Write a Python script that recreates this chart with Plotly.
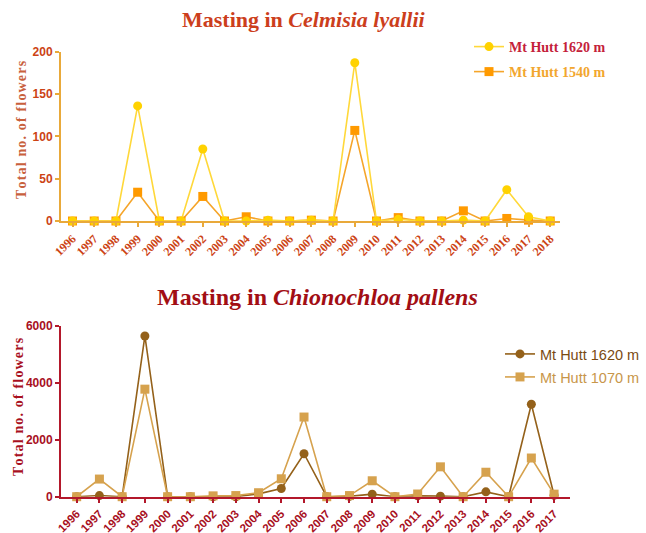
import plotly.graph_objects as go

# ---- data -------------------------------------------------------------
years_cel = list(range(1996, 2019))
cel_1620 = [0, 0, 0, 136, 0, 0, 85, 0, 0, 1, 0, 1, 0, 187, 0, 2, 0, 0, 1, 0, 37, 5, 0]
cel_1540 = [0, 0, 0, 34, 0, 0, 29, 0, 5, 0, 0, 1, 0, 107, 0, 4, 0, 0, 12, 0, 3, 1, 0]

years_chi = list(range(1996, 2018))
chi_1620 = [0, 40, 0, 5650, 0, 0, 0, 0, 100, 290, 1510, 0, 10, 90, 0, 30, 20, 0, 170, 0, 3250, 50]
chi_1070 = [0, 620, 0, 3780, 0, 0, 30, 40, 140, 630, 2800, 0, 40, 560, 0, 95, 1050, 0, 860, 0, 1360, 90]

cel_ticks = [0, 50, 100, 150, 200]
chi_ticks = [0, 2000, 4000, 6000]

W, H = 646, 533
SERIF = "Liberation Serif, Times New Roman, serif"
SANS = "Liberation Sans, Arial, sans-serif"

# palette
C_YEL, C_ORG = "#FFD200", "#FF9A00"
C_YEL_LINE, C_ORG_LINE = "#FFD83A", "#F5A52A"
C_BRN, C_TAN = "#94611A", "#D6A24E"
AX_TOP, AX_BOT = "#E9A93A", "#B3182B"
TXT_TOP, TXT_BOT = "#CC4314", "#A8101E"


def px_x(p):
    return p / W


def px_y(p):
    return 1 - p / H


fig = go.Figure()

# Celmisia panel (orange drawn under yellow); each series has its own legend box
fig.add_trace(go.Scatter(
    x=years_cel, y=cel_1540, mode="lines+markers",
    name='<span style="color:#F2A62E">Mt Hutt 1540 m</span>',
    line=dict(color=C_ORG_LINE, width=1.6),
    marker=dict(symbol="square", size=9, color=C_ORG),
    xaxis="x", yaxis="y", legend="legend2", cliponaxis=False))
fig.add_trace(go.Scatter(
    x=years_cel, y=cel_1620, mode="lines+markers",
    name='<span style="color:#C4213A">Mt Hutt 1620 m</span>',
    line=dict(color=C_YEL_LINE, width=1.6),
    marker=dict(symbol="circle", size=9, color=C_YEL),
    xaxis="x", yaxis="y", legend="legend", cliponaxis=False))

# Chionochloa panel
fig.add_trace(go.Scatter(
    x=years_chi, y=chi_1620, mode="lines+markers",
    name='<span style="color:#7A4A12">Mt Hutt 1620 m</span>',
    line=dict(color=C_BRN, width=1.6),
    marker=dict(symbol="circle", size=9, color=C_BRN),
    xaxis="x2", yaxis="y2", legend="legend3", cliponaxis=False))
fig.add_trace(go.Scatter(
    x=years_chi, y=chi_1070, mode="lines+markers",
    name='<span style="color:#C8964A">Mt Hutt 1070 m</span>',
    line=dict(color=C_TAN, width=1.6),
    marker=dict(symbol="square", size=9, color=C_TAN),
    xaxis="x2", yaxis="y2", legend="legend4", cliponaxis=False))

common_axis = dict(showgrid=False, zeroline=False, showline=True, ticks="outside",
                   ticklen=4, tickwidth=1.5, linewidth=2, automargin=False)


def legend_box(x, y, font):
    return dict(x=px_x(x), y=px_y(y), xanchor="left", yanchor="middle",
                bgcolor="rgba(0,0,0,0)", itemwidth=30, font=font)


top_leg_font = dict(family=SERIF, size=14, weight="bold")
bot_leg_font = dict(family=SANS, size=14.5)

fig.update_layout(
    width=W, height=H, margin=dict(l=0, r=0, t=0, b=0, autoexpand=False),
    paper_bgcolor="white", plot_bgcolor="white",
    xaxis=dict(**common_axis, domain=[px_x(61), px_x(560)], range=[1995.47, 2018.45],
               tickvals=years_cel, ticktext=[str(y) for y in years_cel], tickangle=-45,
               linecolor=AX_TOP, tickcolor=AX_TOP,
               tickfont=dict(family=SERIF, size=12, color=TXT_TOP, weight="bold"),
               anchor="y"),
    yaxis=dict(**common_axis, domain=[px_y(221), px_y(51.7)], range=[0, 200],
               tickvals=cel_ticks, linecolor=AX_TOP, tickcolor=AX_TOP,
               tickfont=dict(family=SANS, size=12, color=TXT_TOP, weight="bold"),
               anchor="x"),
    xaxis2=dict(**common_axis, domain=[px_x(61), px_x(570)], range=[1995.31, 2017.70],
                tickvals=years_chi, ticktext=[str(y) for y in years_chi], tickangle=-45,
                linecolor=AX_BOT, tickcolor=AX_BOT,
                tickfont=dict(family=SANS, size=11.5, color=TXT_BOT, weight="bold"),
                anchor="y2"),
    yaxis2=dict(**common_axis, domain=[px_y(496.7), px_y(326)], range=[0, 6000],
                tickvals=chi_ticks, linecolor=AX_BOT, tickcolor=AX_BOT,
                tickfont=dict(family=SANS, size=12, color=TXT_BOT, weight="bold"),
                anchor="x2"),
    legend=legend_box(469, 47, top_leg_font),
    legend2=legend_box(469, 72, top_leg_font),
    legend3=legend_box(500, 354, bot_leg_font),
    legend4=legend_box(500, 377, bot_leg_font),
    showlegend=True,
)

# letter-spaced axis caption
HAIR = "\u200a"
caption = HAIR.join("Total no. of flowers")

annotations = [
    dict(text="<b>Masting in <i>Celmisia lyallii</i></b>", x=px_x(304), y=px_y(20),
         font=dict(family=SERIF, size=22, color="#CC3E1C")),
    dict(text="<b>Masting in <i>Chionochloa pallens</i></b>", x=px_x(317), y=px_y(297),
         font=dict(family=SERIF, size=24, color="#A20E14")),
    dict(text=f"<b>{caption}</b>", x=px_x(21), y=px_y(130), textangle=-90,
         font=dict(family=SERIF, size=14, color="#C8603C")),
    dict(text=f"<b>{caption}</b>", x=px_x(18), y=px_y(407), textangle=-90,
         font=dict(family=SERIF, size=14, color="#A8101E")),
]
for a in annotations:
    a.update(xref="paper", yref="paper", showarrow=False, xanchor="center", yanchor="middle")
fig.update_layout(annotations=annotations)

fig.write_html("out.html")
